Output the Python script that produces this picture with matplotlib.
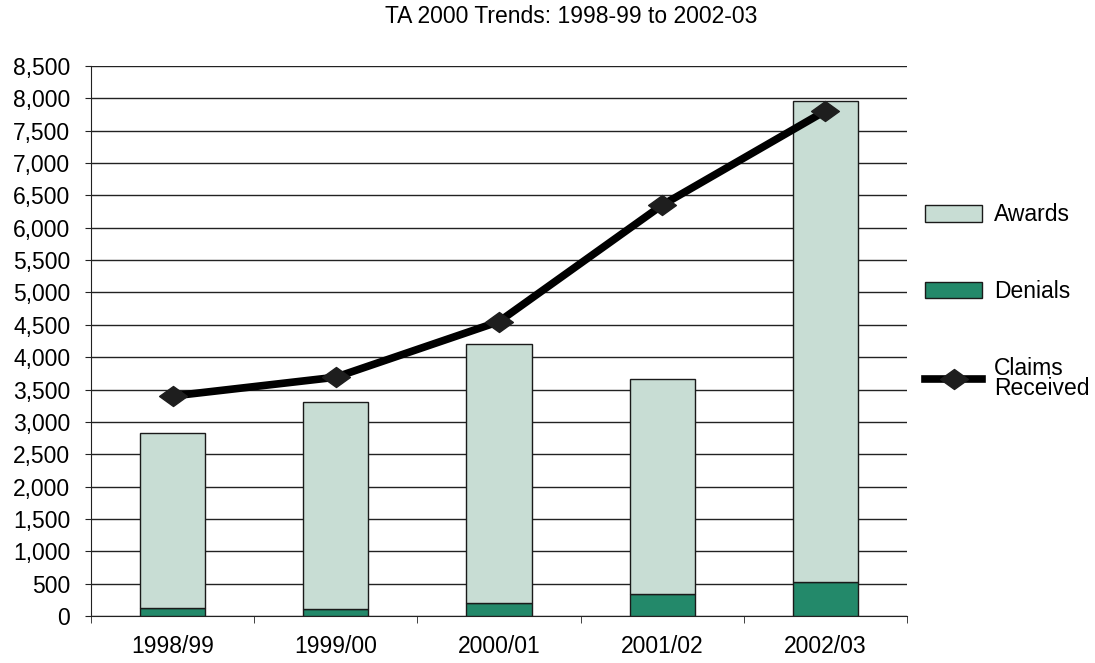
import numpy as np
import matplotlib
matplotlib.use("Agg")
import matplotlib.pyplot as plt
from matplotlib.path import Path

years = ["1998/99", "1999/00", "2000/01", "2001/02", "2002/03"]
denials = [120, 105, 195, 335, 530]
awards = [2710, 3195, 4005, 3325, 7435]
claims = [3400, 3690, 4550, 6350, 7805]

plt.rcParams['font.family'] = ['Liberation Sans', 'DejaVu Sans']
FS = 16.5

fig = plt.figure(figsize=(10.95, 6.63), dpi=100)
ax = fig.add_axes([0.0831, 0.0709, 0.7452, 0.8296])

x = np.arange(len(years))
bw = 0.4
b_den = ax.bar(x, denials, bw, color='#23896a', edgecolor='#1a1a1a', linewidth=1, zorder=3)
b_aw = ax.bar(x, awards, bw, bottom=denials, color='#c8ddd4', edgecolor='#1a1a1a', linewidth=1, zorder=3)

diamond = Path([(-1, 0), (0, 0.72), (1, 0), (0, -0.72), (-1, 0)],
               [Path.MOVETO, Path.LINETO, Path.LINETO, Path.LINETO, Path.CLOSEPOLY])
ln, = ax.plot(x, claims, color='black', linewidth=5.5, marker=diamond, markersize=20,
              markerfacecolor='#1e1e1e', markeredgecolor='#1e1e1e', zorder=4)

ax.set_xlim(-0.5, len(years) - 0.5)
ax.set_ylim(0, 8500)
ax.set_yticks(np.arange(0, 8501, 500))
ax.set_yticklabels([f"{v:,}" for v in range(0, 8501, 500)], fontsize=FS)
ax.yaxis.grid(True, color='#222222', linewidth=1, zorder=0)
ax.set_axisbelow(True)

ax.set_xticks(x)
ax.set_xticklabels(years, fontsize=FS)
ax.tick_params(axis='x', length=0, pad=14)
ax.set_xticks(np.arange(-0.5, len(years)), minor=True)
ax.tick_params(axis='x', which='minor', length=5, color='#222222')
ax.tick_params(axis='y', length=4, color='#222222', pad=11)

for s in ['top', 'right']:
    ax.spines[s].set_visible(False)
ax.spines['left'].set_color('#222222')
ax.spines['bottom'].set_color('#222222')

fig.text(0.5215, 0.966, "TA 2000 Trends: 1998-99 to 2002-03", fontsize=FS, ha='center', va='baseline')

leg = ax.legend([b_aw, b_den, ln], ['Awards', 'Denials', 'Claims\nReceived'], loc='upper left',
                bbox_to_anchor=(1.022, 0.750), frameon=False, fontsize=FS,
                borderaxespad=0, borderpad=0,
                handlelength=2.5, handleheight=0.72, labelspacing=2.35, handletextpad=0.5)
for t in leg.get_texts():
    t.set_linespacing(0.8)

fig.savefig("out.png", dpi=100)
